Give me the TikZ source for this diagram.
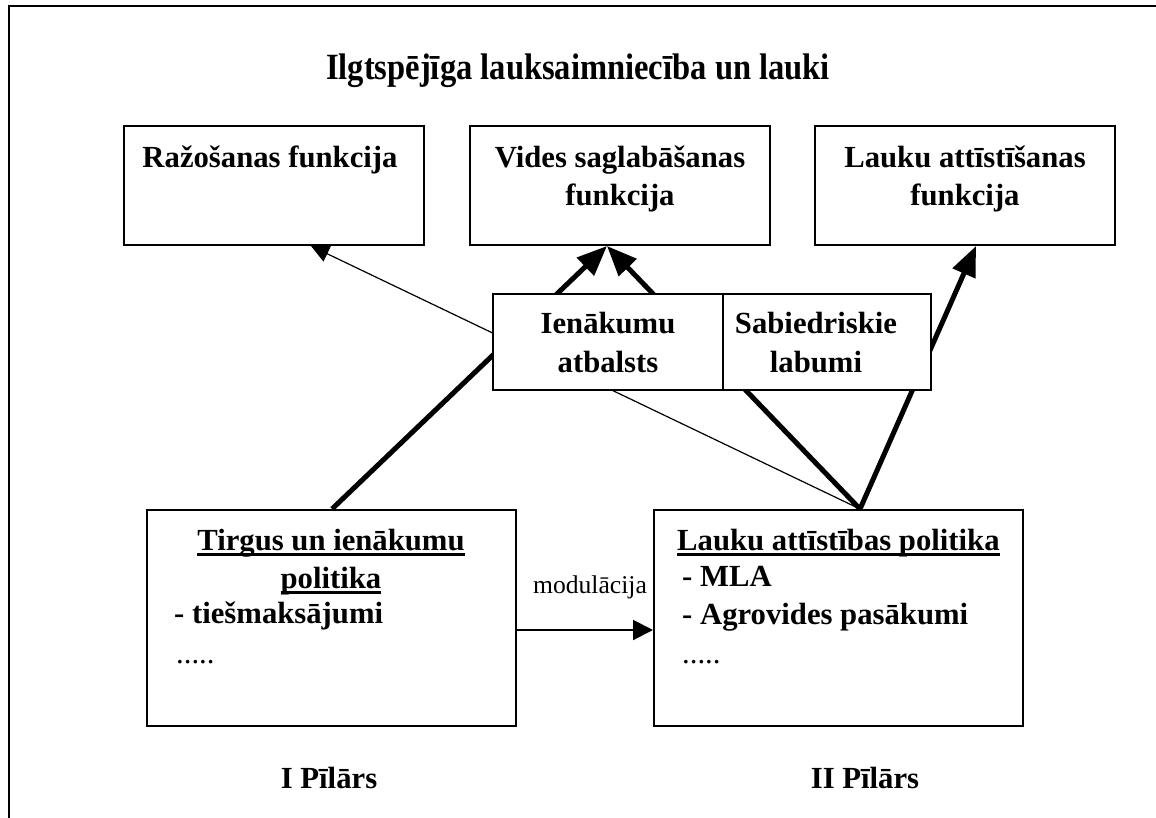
\documentclass[tikz,border=0pt]{standalone}
\usepackage{fontspec}
\usepackage{graphicx}
\setmainfont{Liberation Serif}
\usetikzlibrary{arrows.meta,calc}
\pgfdeclarelayer{bg}
\pgfsetlayers{bg,main}
\newcommand\myul[1]{\setbox0=\hbox{#1}\leavevmode\rlap{\rule[-6pt]{\wd0}{3pt}}\box0}
\begin{document}
\begin{tikzpicture}[x=1pt,y=-1pt,
  box/.style={draw, line width=2pt, fill=white, inner sep=0pt},
  bt/.style={font=\fontsize{30.7}{36}\selectfont\bfseries, inner sep=0pt, anchor=base},
  btl/.style={bt, anchor=base west},
  rt/.style={font=\fontsize{30.7}{36}\selectfont, inner sep=0pt, anchor=base west},
  thick arrow/.style={line width=5pt, -{Triangle[length=30pt,width=24pt]}},
  thin arrow/.style={line width=1.2pt, -{Triangle[length=18pt,width=17pt]}},
  mod arrow/.style={line width=2pt, -{Triangle[length=20pt,width=20pt]}}]
\useasboundingbox (0,0) rectangle (1156,818);
% frame
\draw[line width=2.5pt] (9,830) -- (9,6) -- (1170,6);
% title
\node[font=\fontsize{37}{42}\selectfont\bfseries, inner sep=0pt, anchor=base] (title) at (578,80) {\scalebox{0.88}[1]{Ilgtspējīga lauksaimniecība un lauki}};
% top boxes
\node[box, minimum width=300pt, minimum height=119pt] (razo) at (274,185.5) {};
\node[box, minimum width=300pt, minimum height=119pt] (vides) at (620,185.5) {};
\node[box, minimum width=300pt, minimum height=119pt] (laukf) at (965,185.5) {};
\node[bt] (razo1) at (270,168) {Ražošanas funkcija};
\node[bt] (vides1) at (620,168) {Vides saglabāšanas};
\node[bt] (vides2) at (620,206) {funkcija};
\node[bt] (laukf1) at (965,168) {Lauku attīstīšanas};
\node[bt] (laukf2) at (965,206) {funkcija};
% middle boxes
\node[box, minimum width=230pt, minimum height=96pt] (ien) at (608,342) {};
\node[box, minimum width=208pt, minimum height=96pt] (sab) at (827,342) {};
\node[bt] (ien1) at (608,333) {Ienākumu};
\node[bt] (ien2) at (608,372) {atbalsts};
\node[bt] (sab1) at (816,333) {Sabiedriskie};
\node[bt] (sab2) at (816,372) {labumi};
% bottom boxes
\node[box, minimum width=369pt, minimum height=216pt] (tirgus) at (331.5,618) {};
\node[box, minimum width=369pt, minimum height=216pt] (lap) at (838.5,618) {};
\node[bt] (tirgus1) at (331,550) {\myul{Tirgus un ienākumu}};
\node[bt] (tirgus2) at (331,588) {\myul{politika}};
\node[btl] (tirgus3) at (174,623) {- tiešmaksājumi};
\node[rt] (tirgus4) at (176,663) {.....};
\node[btl] (lap1) at (677,550) {\myul{Lauku attīstības politika}};
\node[btl] (lap2) at (682,586) {- MLA};
\node[btl] (lap3) at (682,624) {- Agrovides pasākumi};
\node[rt] (lap4) at (682,663) {.....};
\node[bt] (p1) at (329,788) {I Pīlārs};
\node[bt] (p2) at (865,788) {II Pīlārs};
% attachment points
\coordinate (tirgusTop) at ($(tirgus.north west)+(186,0)$);
\coordinate (lapTop) at ($(lap.north west)+(207,0)$);
\coordinate (razoIn) at ($(razo.south west)+(188,0)$);
\coordinate (videsIn) at ($(vides.south west)+(138,0)$);
\coordinate (laukfIn) at ($(laukf.south west)+(162,0)$);
% connectors
\begin{pgfonlayer}{bg}
\draw[thin arrow] (lapTop) -- (razoIn);
\draw[thick arrow] (tirgusTop) -- (videsIn);
\draw[thick arrow] (lapTop) -- (videsIn);
\draw[thick arrow] (lapTop) -- (laukfIn);
\end{pgfonlayer}
\draw[mod arrow] (tirgus.east |- 0,630) -- (lap.west |- 0,630);
\node[font=\fontsize{25.6}{30}\selectfont, inner sep=0pt, anchor=base] (mod) at (590,593) {modulācija};
\end{tikzpicture}
\end{document}
